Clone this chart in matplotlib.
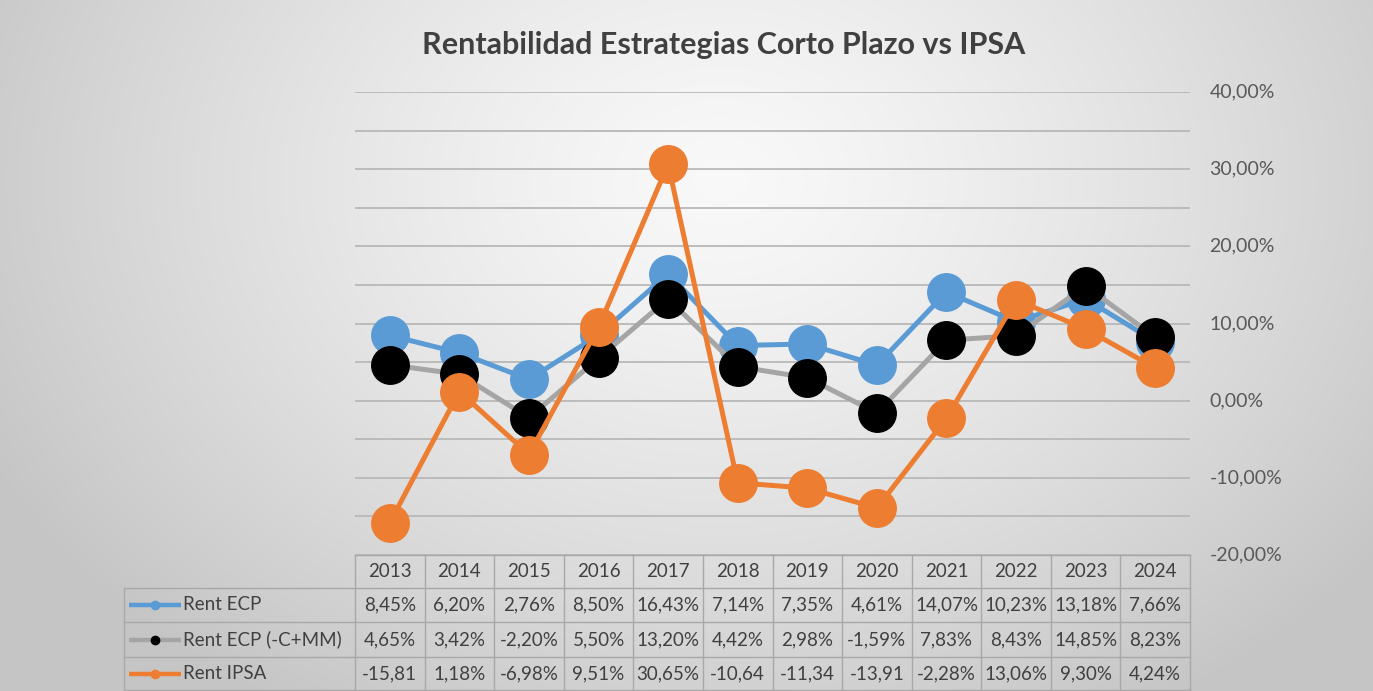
import numpy as np
import matplotlib
matplotlib.use("Agg")
import matplotlib.pyplot as plt
from matplotlib.ticker import MultipleLocator, FuncFormatter

# ---------------- data ----------------
years = ["2013", "2014", "2015", "2016", "2017", "2018", "2019", "2020", "2021", "2022", "2023", "2024"]
rent_ecp = [8.45, 6.20, 2.76, 8.50, 16.43, 7.14, 7.35, 4.61, 14.07, 10.23, 13.18, 7.66]
rent_ecp_cmm = [4.65, 3.42, -2.20, 5.50, 13.20, 4.42, 2.98, -1.59, 7.83, 8.43, 14.85, 8.23]
rent_ipsa = [-15.81, 1.18, -6.98, 9.51, 30.65, -10.64, -11.34, -13.91, -2.28, 13.06, 9.30, 4.24]
series_names = ["Rent ECP", "Rent ECP (-C+MM)", "Rent IPSA"]
title = "Rentabilidad Estrategias Corto Plazo vs IPSA"

W, H = 1373, 691
plt.rcParams['font.family'] = ['Lato', 'DejaVu Sans']
fig = plt.figure(figsize=(W / 100, H / 100), dpi=100)

# ---------------- background gradient ----------------
bg = fig.add_axes([0, 0, 1, 1], zorder=-10)
yy, xx = np.mgrid[0:H, 0:W]
r = np.sqrt(((xx - 720) / 820.0) ** 2 + ((yy - 180) / 620.0) ** 2)
r = np.clip(r, 0, 1)
val = 0.975 - 0.20 * r ** 1.3
img = np.dstack([val, val, val])
bg.imshow(img, extent=[0, W, H, 0], aspect='auto', interpolation='bilinear')
bg.set_xlim(0, W)
bg.set_ylim(H, 0)
bg.axis('off')

# ---------------- main axes ----------------
left_px, right_px, top_px, bot_px = 355, 1190, 92, 555
ax = fig.add_axes([left_px / W, 1 - bot_px / H, (right_px - left_px) / W, (bot_px - top_px) / H])
ax.patch.set_alpha(0)
x = np.arange(len(years))
blue, gray, orange = "#5B9BD5", "#A5A5A5", "#ED7D31"
ms = 27
ax.plot(x, np.array(rent_ecp) / 100, color=blue, lw=3.6, marker='o', ms=ms, mfc=blue, mec=blue, zorder=3)
ax.plot(x, np.array(rent_ecp_cmm) / 100, color=gray, lw=3.6, marker='o', ms=ms, mfc='black', mec='black', zorder=4)
ax.plot(x, np.array(rent_ipsa) / 100, color=orange, lw=3.6, marker='o', ms=ms, mfc=orange, mec=orange, zorder=5)

ax.set_xlim(-0.5, len(years) - 0.5)
ax.set_ylim(-0.20, 0.40)
ax.yaxis.set_major_locator(MultipleLocator(0.10))
ax.yaxis.set_minor_locator(MultipleLocator(0.05))
ax.yaxis.set_major_formatter(FuncFormatter(lambda v, p: f"{v*100:.2f}%".replace('.', ',').replace('-0,00', '0,00')))
ax.yaxis.tick_right()
ax.tick_params(axis='y', which='both', length=0, pad=14, labelsize=14, labelcolor='#595959')
ax.set_xticks([])
ax.grid(axis='y', which='both', color='#b8b8b8', lw=1.3, zorder=0)
for s in ax.spines.values():
    s.set_visible(False)
for lbl in ax.get_yticklabels():
    lbl.set_verticalalignment('center')

fig.text(724 / W, 1 - 45 / H, title, ha='center', va='center', fontsize=22,
         fontweight='bold', color='#404040')

# ---------------- data table ----------------
tb = fig.add_axes([0, 0, 1, 1], zorder=2)
tb.set_xlim(0, W)
tb.set_ylim(H, 0)
tb.axis('off')
tb.patch.set_alpha(0)

rows_y = [555, 588, 622, 657, 690]
lab_left = 124
cw = (right_px - left_px) / len(years)
lc = '#a8a8a8'
tc = '#404040'
fs = 13.5
# horizontal lines
tb.plot([left_px, right_px], [rows_y[0]] * 2, color=lc, lw=1)
for yv in rows_y[1:]:
    tb.plot([lab_left, right_px], [yv] * 2, color=lc, lw=1)
# vertical lines
for i in range(len(years) + 1):
    tb.plot([left_px + i * cw] * 2, [rows_y[0], rows_y[-1]], color=lc, lw=1)
tb.plot([lab_left] * 2, [rows_y[1], rows_y[-1]], color=lc, lw=1)

def fmt(v):
    s = f"{v:.2f}%".replace('.', ',')
    return s[:6]

for i, yr in enumerate(years):
    cx = left_px + (i + 0.5) * cw
    tb.text(cx, (rows_y[0] + rows_y[1]) / 2, yr, ha='center', va='center', fontsize=fs, color=tc)
    for j, ser in enumerate([rent_ecp, rent_ecp_cmm, rent_ipsa]):
        tb.text(cx, (rows_y[j + 1] + rows_y[j + 2]) / 2, fmt(ser[i]), ha='center', va='center',
                fontsize=fs, color=tc)

key_styles = [(blue, blue), (gray, 'black'), (orange, orange)]
for j, name in enumerate(series_names):
    cy = (rows_y[j + 1] + rows_y[j + 2]) / 2
    lcol, mcol = key_styles[j]
    tb.plot([129, 181], [cy, cy], color=lcol, lw=3.2, solid_capstyle='butt')
    tb.plot([155], [cy], marker='o', ms=6, mfc=mcol, mec=mcol, color=lcol)
    tb.text(183, cy, name, ha='left', va='center', fontsize=fs, color=tc)

fig.savefig("out.png", dpi=100)
